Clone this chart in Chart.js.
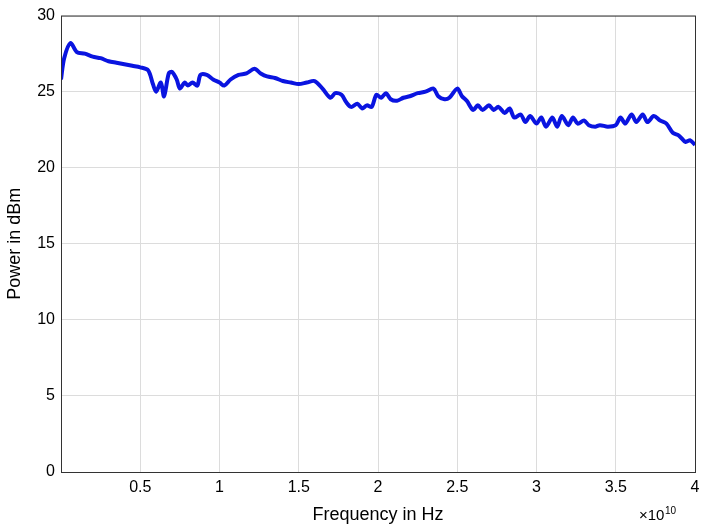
<!DOCTYPE html>
<html>
<head>
<script src="https://cdn.jsdelivr.net/npm/chart.js@4"></script>
<style>body{margin:0;background:#fff}#c{display:block}</style>
</head>
<body>
<canvas id="c" width="720" height="530"></canvas>
<script>
// frequency in units of 1e10 Hz
var freq = [0,0.02,0.06,0.1,0.15,0.2,0.25,0.3,0.35,0.4,0.45,0.5,0.55,0.58,0.6,0.63,0.65,0.68,0.7,0.73,0.75,0.78,0.8,0.83,0.86,0.88,0.92,0.96,1.0,1.03,1.07,1.12,1.17,1.22,1.26,1.3,1.35,1.4,1.45,1.5,1.55,1.6,1.65,1.7,1.73,1.77,1.8,1.83,1.87,1.9,1.93,1.96,1.99,2.02,2.05,2.08,2.12,2.16,2.2,2.25,2.3,2.35,2.38,2.42,2.45,2.5,2.53,2.56,2.6,2.63,2.66,2.7,2.73,2.76,2.8,2.83,2.86,2.9,2.93,2.96,3.0,3.03,3.06,3.1,3.13,3.16,3.2,3.23,3.26,3.3,3.33,3.37,3.4,3.45,3.5,3.53,3.56,3.6,3.63,3.67,3.7,3.74,3.78,3.82,3.86,3.9,3.94,3.97,4.0];
var power = [25.8,27.2,28.2,27.6,27.5,27.3,27.2,27.0,26.9,26.8,26.7,26.6,26.4,25.5,25.0,25.6,24.7,26.2,26.3,25.8,25.2,25.6,25.4,25.6,25.4,26.1,26.1,25.8,25.6,25.4,25.8,26.1,26.2,26.5,26.2,26.0,25.9,25.7,25.6,25.5,25.6,25.7,25.2,24.6,24.9,24.8,24.3,24.0,24.2,23.9,24.1,24.0,24.8,24.6,24.9,24.5,24.4,24.6,24.7,24.9,25.0,25.2,24.7,24.5,24.6,25.2,24.7,24.4,23.8,24.1,23.8,24.1,23.8,24.0,23.6,23.9,23.3,23.5,23.0,23.4,22.9,23.3,22.7,23.3,22.7,23.4,22.8,23.3,22.9,23.1,22.8,22.7,22.8,22.7,22.8,23.3,22.9,23.5,23.0,23.5,23.0,23.4,23.1,22.9,22.3,22.1,21.7,21.8,21.5];
var xTicks = [0.5,1,1.5,2,2.5,3,3.5,4];
var yTicks = [0,5,10,15,20,25,30];

var pts = [];
for (var i = 0; i < freq.length; i++) pts.push({x: freq[i], y: power[i]});

var font = {family: 'Liberation Sans, Arial', size: 16};
var grid = {color: '#dcdcdc', drawTicks: false};

var boxPlugin = {
    id: 'box',
    afterDraw: function (chart) {
        var a = chart.chartArea, ctx = chart.ctx;
        ctx.save();
        ctx.strokeStyle = '#333';
        ctx.lineWidth = 1;
        ctx.strokeRect(a.left + 0.5, a.top + 0.5, a.right - a.left, a.bottom - a.top);
        ctx.fillStyle = '#000';
        ctx.font = '15px Liberation Sans, Arial';
        ctx.fillText('\u00d710', a.right - 56, a.bottom + 48);
        ctx.font = '10px Liberation Sans, Arial';
        ctx.fillText('10', a.right - 30, a.bottom + 42);
        ctx.restore();
    }
};

new Chart(document.getElementById('c'), {
    type: 'scatter',
    data: {datasets: [{data: pts, showLine: true, borderColor: '#0a14e0', borderWidth: 4, pointRadius: 0, tension: 0.3}]},
    options: {
        responsive: false,
        animation: false,
        layout: {padding: {top: 15, right: 25, left: 0, bottom: 0}},
        plugins: {legend: {display: false}, tooltip: {enabled: false}},
        scales: {
            x: {
                type: 'linear', min: 0, max: 4,
                grid: grid, border: {display: false},
                afterBuildTicks: function (s) { s.ticks = xTicks.map(function (v) { return {value: v}; }); },
                ticks: {font: font, color: '#000', padding: 6, callback: function (v) { return String(v); }},
                title: {display: true, text: 'Frequency in Hz', font: {family: font.family, size: 18}, color: '#000', padding: {top: 0}},
                afterFit: function (s) { s.height = 58; }
            },
            y: {
                min: 0, max: 30,
                grid: grid, border: {display: false},
                afterBuildTicks: function (s) { s.ticks = yTicks.map(function (v) { return {value: v}; }); },
                ticks: {font: font, color: '#000', padding: 6, callback: function (v) { return String(v); }},
                title: {display: true, text: 'Power in dBm', font: {family: font.family, size: 18}, color: '#000', padding: {bottom: 2}},
                afterFit: function (s) { s.width = 61; }
            }
        }
    },
    plugins: [boxPlugin]
});
</script>
</body>
</html>
